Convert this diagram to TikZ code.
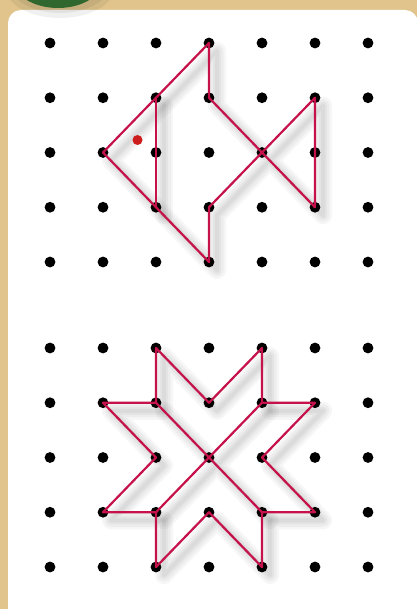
\documentclass[tikz,border=0pt]{standalone}
\definecolor{frametan}{HTML}{E0C48C}
\definecolor{leaf}{HTML}{2F672F}
\definecolor{band}{HTML}{C6124A}
\definecolor{eyered}{HTML}{CC1C1C}

\begin{document}
\begin{tikzpicture}[x=1pt,y=-1pt,
  dot/.style={circle,fill=black,inner sep=0pt,minimum size=10.8pt},
  eye/.style={circle,fill=eyered,inner sep=0pt,minimum size=10pt},
  rubber/.style={band,line width=2.2pt,line join=round,line cap=round},
  haze/.style={black,opacity=.035,line join=round,line cap=round,
               transform canvas={xshift=8pt,yshift=-8pt}}]
  \useasboundingbox (0,0) rectangle (417,609);
  \clip (0,0) rectangle (417,609);
  % board
  \fill[frametan] (0,0) rectangle (417,609);
  \fill[white,rounded corners=13pt] (8,10) rectangle (418,630);
  \fill[black,opacity=.06] (60,-12) ellipse [x radius=54pt,y radius=30pt];
  \fill[black,opacity=.06] (60,-16) ellipse [x radius=50pt,y radius=29pt];
  \fill[leaf] (58,-22) ellipse [x radius=46pt,y radius=30pt];
  % pegs
  \foreach \i in {0,...,6}
    \foreach \j in {0,...,4} {
      \node[dot] (t-\i-\j) at ({50+53*\i},{43+54.75*\j}) {};
      \node[dot] (b-\i-\j) at ({50+53*\i},{348+54.75*\j}) {};
    }
  % shadows
  \foreach \w in {18,13,8,4} {
    \draw[haze,line width=\w pt] (t-3-1.center) -- (t-3-0.center) -- (t-1-2.center)
      -- (t-3-4.center) -- (t-3-3.center) -- (t-5-1.center) -- (t-5-3.center) -- cycle;
    \draw[haze,line width=\w pt] (t-2-1.center) -- (t-2-3.center);
    \draw[haze,line width=\w pt] (b-2-0.center) -- (b-3-1.center) -- (b-4-0.center)
      -- (b-4-1.center) -- (b-5-1.center) -- (b-4-2.center) -- (b-5-3.center)
      -- (b-4-3.center) -- (b-4-4.center) -- (b-3-3.center) -- (b-2-4.center)
      -- (b-2-3.center) -- (b-1-3.center) -- (b-2-2.center) -- (b-1-1.center)
      -- (b-2-1.center) -- cycle;
    \draw[haze,line width=\w pt] (b-2-1.center) -- (b-4-3.center)
      (b-4-1.center) -- (b-2-3.center);
  }
  % fish
  \draw[rubber] (t-3-1.center) -- (t-3-0.center) -- (t-1-2.center)
    -- (t-3-4.center) -- (t-3-3.center) -- (t-5-1.center) -- (t-5-3.center) -- cycle;
  \draw[rubber] (t-2-1.center) -- (t-2-3.center);
  \node[eye] (eye) at (137.5,140) {};
  % star
  \draw[rubber] (b-2-0.center) -- (b-3-1.center) -- (b-4-0.center)
    -- (b-4-1.center) -- (b-5-1.center) -- (b-4-2.center) -- (b-5-3.center)
    -- (b-4-3.center) -- (b-4-4.center) -- (b-3-3.center) -- (b-2-4.center)
    -- (b-2-3.center) -- (b-1-3.center) -- (b-2-2.center) -- (b-1-1.center)
    -- (b-2-1.center) -- cycle;
  \draw[rubber] (b-2-1.center) -- (b-4-3.center);
  \draw[rubber] (b-4-1.center) -- (b-2-3.center);
\end{tikzpicture}
\end{document}
